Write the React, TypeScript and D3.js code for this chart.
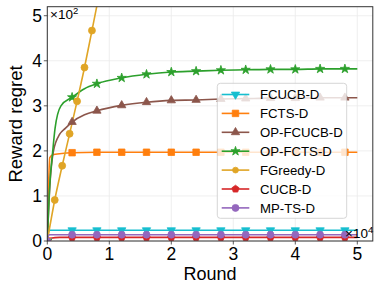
import React from "react";
import * as d3 from "d3";

const W = 382;
const H = 287;

const xTickValues = [0, 10000, 20000, 30000, 40000, 50000];
const xTickLabels = ["0", "1", "2", "3", "4", "5"];
const yTickValues = [0, 100, 200, 300, 400, 500];
const yTickLabels = ["0", "1", "2", "3", "4", "5"];

const seriesNames = ["FCUCB-D", "FCTS-D", "OP-FCUCB-D", "OP-FCTS-D", "FGreedy-D", "CUCB-D", "MP-TS-D"];
const seriesColors = ["#17becf", "#ff7f0e", "#8c564b", "#2ca02c", "#e0a526", "#d62728", "#9467bd"];
const seriesMarkers = ["triangleDown", "square", "triangleUp", "star", "circle", "pentagon", "circle"];

const longRounds = [4000, 8000, 12000, 16000, 20000, 24000, 28000, 32000, 36000, 40000, 44000, 48000, 50000];

const fcucbX = [0, 300, ...longRounds];
const fcucbY = [0, 24, 24, 24, 24, 24, 24, 24, 24, 24, 24, 24, 24, 24, 24];

const fctsX = [0, 200, 400, 1000, ...longRounds];
const fctsY = [0, 120, 185, 192, 196, 197, 197, 197, 197, 197, 197, 197, 197, 197, 197, 197, 197];

const opFcucbX = [0, 400, 1000, 2000, 2900, 4000, 6000, 8000, 12000, 16000, 20000, 24000, 28000, 32000, 36000, 40000, 44000, 48000, 50000];
const opFcucbY = [0, 120, 200, 237, 250, 264, 280, 289, 301, 308, 312, 313, 315, 316, 317, 317, 318, 318, 318];

const opFctsX = [0, 400, 880, 1250, 2200, 4000, 6000, 8000, 12000, 16000, 20000, 24000, 28000, 32000, 36000, 40000, 44000, 48000, 50000];
const opFctsY = [0, 125, 200, 250, 300, 319, 338, 349, 362, 370, 375, 377, 379, 380, 381, 381, 382, 382, 382];

const fgreedyX = [0, 1200, 2400, 3600, 4800, 6000, 7200, 8400];
const fgreedyY = [0, 91, 167, 238, 310, 385, 467, 550];

const cucbX = [0, 500, 2000, ...longRounds];
const cucbY = [0, 6, 8, 8, 8, 8, 8, 8, 8, 8, 8, 8, 8, 8, 8, 8];

const mptsX = [0, 300, ...longRounds];
const mptsY = [0, 14, 14, 14, 14, 14, 14, 14, 14, 14, 14, 14, 14, 14, 14];

const seriesX = [fcucbX, fctsX, opFcucbX, opFctsX, fgreedyX, cucbX, mptsX];
const seriesY = [fcucbY, fctsY, opFcucbY, opFctsY, fgreedyY, cucbY, mptsY];
const markerStep = [4000, 4000, 4000, 4000, 1200, 4000, 4000];

const FONT = "'Liberation Sans', Arial, Helvetica, sans-serif";

function pentagonPath(r: number) {
  const pts: string[] = [];
  for (let i = 0; i < 5; i++) {
    const a = -Math.PI / 2 + (i * 2 * Math.PI) / 5;
    pts.push(`${(r * Math.cos(a)).toFixed(2)},${(r * Math.sin(a)).toFixed(2)}`);
  }
  return "M" + pts.join("L") + "Z";
}

function markerPath(kind: string, scale = 1) {
  switch (kind) {
    case "triangleDown":
    case "triangleUp":
      return d3.symbol(d3.symbolTriangle, 30 * scale)()!;
    case "square":
      return d3.symbol(d3.symbolSquare, 42 * scale)()!;
    case "star":
      return d3.symbol(d3.symbolStar, 26 * scale)()!;
    case "circle":
      return d3.symbol(d3.symbolCircle, 38 * scale)()!;
    case "pentagon":
      return pentagonPath(3.8 * Math.sqrt(scale));
  }
  return "";
}

function Marker({ kind, x, y, color, scale = 1 }: { kind: string; x: number; y: number; color: string; scale?: number }) {
  const rot = kind === "triangleDown" ? 180 : 0;
  return (
    <path
      d={markerPath(kind, scale)}
      transform={`translate(${x},${y}) rotate(${rot})`}
      fill={color}
      stroke={color}
      strokeWidth={0.8}
    />
  );
}

export default function App() {
  const left = 47.3;
  const top = 6.7;
  const right = 372.8;
  const bottom = 241;

  const x = d3.scaleLinear().domain([0, 52500]).range([left, right]);
  const y = d3.scaleLinear().domain([0, 520]).range([bottom, top]);

  const line = d3
    .line<[number, number]>()
    .x((d) => x(d[0]))
    .y((d) => y(d[1]))
    .curve(d3.curveMonotoneX);

  const legendX = 217.3;
  const legendY = 83.3;
  const legendW = 129.4;
  const legendH = 135;
  const rowH = 18.9;

  return (
    <svg
      width={W}
      height={H}
      style={{ position: "absolute", left: 0, top: 0, background: "#fff" }}
      fontFamily={FONT}
    >
      <defs>
        <clipPath id="plotclip">
          <rect x={left} y={top} width={right - left} height={bottom - top} />
        </clipPath>
      </defs>
      <rect x={0} y={0} width={W} height={H} fill="#fff" />
      {/* grid */}
      {xTickValues.map((v, i) => (
        <line key={"gx" + i} x1={x(v)} x2={x(v)} y1={top} y2={bottom} stroke="#ebebeb" strokeWidth={0.8} />
      ))}
      {yTickValues.map((v, i) => (
        <line key={"gy" + i} x1={left} x2={right} y1={y(v)} y2={y(v)} stroke="#ebebeb" strokeWidth={0.8} />
      ))}
      {/* series */}
      <g clipPath="url(#plotclip)">
        {seriesNames.map((name, si) => {
          const pts: [number, number][] = seriesX[si].map((xv, i) => [xv, seriesY[si][i]]);
          return (
            <g key={name}>
              <path d={line(pts)!} fill="none" stroke={seriesColors[si]} strokeWidth={1.6} />
            </g>
          );
        })}
      </g>
      <g clipPath="url(#plotclip)">
        {seriesNames.map((name, si) => {
          const pts: [number, number][] = seriesX[si].map((xv, i) => [xv, seriesY[si][i]]);
          return (
            <g key={name + "m"}>
              {pts
                .filter((p) => p[0] % markerStep[si] === 0 && p[0] <= 48000)
                .map((p, j) => (
                  <Marker key={j} kind={seriesMarkers[si]} x={x(p[0])} y={y(p[1])} color={seriesColors[si]} />
                ))}
            </g>
          );
        })}
      </g>
      {/* frame */}
      <rect x={left} y={top} width={right - left} height={bottom - top} fill="none" stroke="#333" strokeWidth={1} />
      {/* ticks */}
      {xTickValues.map((v, i) => (
        <g key={"xt" + i}>
          <line x1={x(v)} x2={x(v)} y1={bottom} y2={bottom + 3.5} stroke="#333" strokeWidth={0.8} />
          <text x={x(v)} y={259.5} fontSize={17.5} textAnchor="middle" fill="#000">
            {xTickLabels[i]}
          </text>
        </g>
      ))}
      {yTickValues.map((v, i) => (
        <g key={"yt" + i}>
          <line x1={left - 3.5} x2={left} y1={y(v)} y2={y(v)} stroke="#333" strokeWidth={0.8} />
          <text x={42} y={y(v) + 6.3} fontSize={17.5} textAnchor="end" fill="#000">
            {yTickLabels[i]}
          </text>
        </g>
      ))}
      {/* offset texts */}
      <text x={50} y={18.5} fontSize={13.5} fill="#000">
        ×10<tspan dy={-5} fontSize={9.5}>2</tspan>
      </text>
      <text x={345} y={238} fontSize={13.5} fill="#000">
        ×10<tspan dy={-5} fontSize={9.5}>4</tspan>
      </text>
      {/* axis labels */}
      <text x={210} y={279.5} fontSize={18} textAnchor="middle" fill="#000">
        Round
      </text>
      <text transform={`translate(21.5,124) rotate(-90)`} fontSize={18.5} textAnchor="middle" fill="#000">
        Reward regret
      </text>
      {/* legend */}
      <rect
        x={legendX}
        y={legendY}
        width={legendW}
        height={legendH}
        rx={3}
        fill="#fff"
        fillOpacity={0.8}
        stroke="#cccccc"
        strokeWidth={0.8}
      />
      {seriesNames.map((name, si) => {
        const cy = 94.5 + si * rowH;
        return (
          <g key={"lg" + si}>
            <line x1={221.7} x2={249.3} y1={cy} y2={cy} stroke={seriesColors[si]} strokeWidth={1.6} />
            <Marker kind={seriesMarkers[si]} x={235.5} y={cy} color={seriesColors[si]} scale={si === 4 ? 0.7 : 1} />
            <text x={260} y={cy + 4.7} fontSize={13.2} fill="#000">
              {name}
            </text>
          </g>
        );
      })}
    </svg>
  );
}
